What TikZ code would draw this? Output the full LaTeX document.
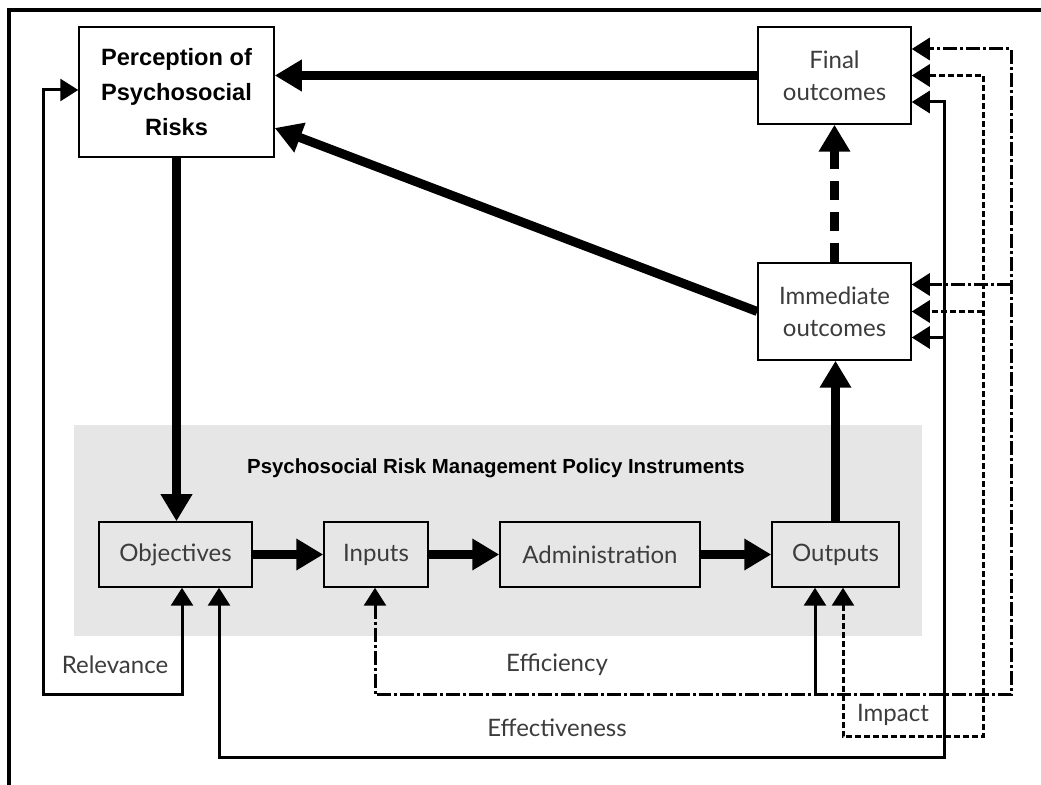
\documentclass[tikz,border=0pt]{standalone}
\usepackage{fontspec}
\setmainfont{Lato}
\newfontfamily\arialfont{Liberation Sans}
\usetikzlibrary{arrows.meta,calc}
\definecolor{panelgray}{HTML}{E6E6E6}
\definecolor{textgray}{HTML}{3C3C3C}

\tikzset{
  box/.style={draw, line width=0.75pt, inner sep=0pt, align=center, text=textgray,
    font=\fontsize{12}{16}\selectfont},
  riskbox/.style={box, text=black, font=\arialfont\bfseries\fontsize{11.8}{17.5}\selectfont},
  tag/.style={text=textgray, font=\fontsize{12}{14}\selectfont},
  main/.style={line width=4.5pt, -{Triangle[length=13.5pt,width=15pt]}},
  feed/.style={line width=1.5pt},
  dashdot/.style={dash pattern=on 7pt off 1.5pt on 1.5pt off 1.5pt},
  dots/.style={dash pattern=on 3pt off 1.5pt}
}

\begin{document}
\begin{tikzpicture}[x=0.5pt,y=-0.5pt,>={Triangle[length=9pt,width=11pt]}]
    \useasboundingbox (0,0) rectangle (1041,785);
    % frame and panel
    \draw[line width=2pt] (9,786) -- (9,10) -- (1042,10);
    \fill[panelgray] (74,425) rectangle (922,636);
    \node[font=\arialfont\bfseries\fontsize{10.2}{12}\selectfont](title) at (496,468)
        {Psychosocial Risk Management Policy Instruments};

    % boxes
    \node[riskbox, fill=white, minimum width=97.5pt, minimum height=65pt](percep) at (176.5,92)
        {Perception of\\Psychosocial\\Risks};
    \node[box, fill=white, minimum width=76.5pt, minimum height=48.5pt](final) at (834.5,75.5)
        {Final\\outcomes};
    \node[box, fill=white, minimum width=76.5pt, minimum height=48.5pt](immed) at (834.5,311.5)
        {Immediate\\outcomes};
    \node[box, minimum width=76.5pt, minimum height=32.5pt](objectives) at (175.5,554.5) {Objectives};
    \node[box, minimum width=52pt,   minimum height=32.5pt](inputs)     at (376,554.5)   {Inputs};
    \node[box, minimum width=100pt,  minimum height=32.5pt](admin)      at (600,554.5)   {Administration};
    \node[box, minimum width=63.5pt, minimum height=32.5pt](outputs)    at (835.5,554.5) {Outputs};

    % main flow
    \draw[main] (objectives) -- (inputs);
    \draw[main] (inputs) -- (admin);
    \draw[main] (admin) -- (outputs);
    \draw[main] (percep.south) -- (percep.south |- objectives.north);
    \draw[main] (outputs.north) -- (outputs.north |- immed.south);
    \draw[main, dash pattern=on 9.5pt off 6pt] (immed.north) -- (immed.north |- final.south);
    \draw[main] (final.west) -- (final.west -| percep.east);
    \coordinate (percD) at ($(percep.east)+(0,36)$);
    \draw[main] (immed.west) -- (percD);

    % feedback corners
    \coordinate (relB) at (182,695);
    \coordinate (relL) at (43,90);
    \coordinate (effB) at (219,758);
    \coordinate (effR) at (944,758);
    \coordinate (efcB) at (375,695);
    \coordinate (efcR) at (1011,695);
    \coordinate (outB) at (815,695);
    \coordinate (impB) at (843,737);
    \coordinate (impR) at (983,737);
    \coordinate (finTop) at ($(final.east)+(0,-26.5)$);
    \coordinate (finLow) at ($(final.east)+(0,26.5)$);
    \coordinate (immTop) at ($(immed.east)+(0,-27)$);
    \coordinate (immLow) at ($(immed.east)+(0,26)$);

    % relevance
    \draw[feed,<->] (objectives.south -| relB) -- (relB) -| (relL) -- (percep.west |- relL);
    % effectiveness
    \draw[feed,<->] (objectives.south -| effB) -- (effB) -- (effR) |- (finLow);
    \draw[feed,->] (effR |- immLow) -- (immLow);
    % efficiency
    \draw[feed,dashdot,<->] (inputs.south -| efcB) -- (efcB) -- (efcR) |- (finTop);
    \draw[feed,dashdot,->] (efcR |- immTop) -- (immTop);
    \draw[feed,->] (outB) -- (outputs.south -| outB);
    % impact
    \draw[feed,dots,<->] (outputs.south -| impB) -- (impB) -- (impR) |- (final.east);
    \draw[feed,dots,->] (impR |- immed.east) -- (immed.east);

    % labels
    \node[tag](relevance)     at (115,665) {Relevance};
    \node[tag](efficiency)    at (557,665) {Efficiency};
    \node[tag](effectiveness) at (557,728) {Effectiveness};
    \node[tag](impact)        at (893,715) {Impact};
\end{tikzpicture}
\end{document}
